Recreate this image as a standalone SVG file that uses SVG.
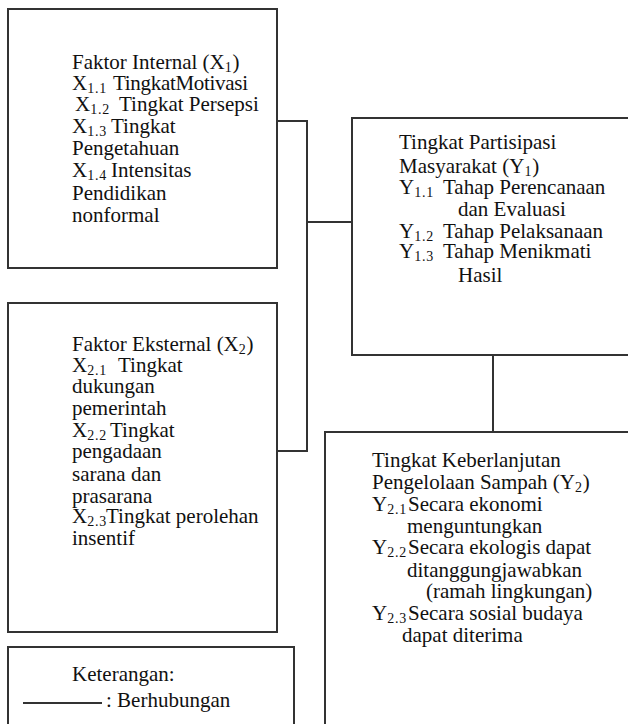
<svg xmlns="http://www.w3.org/2000/svg" width="628" height="724" viewBox="0 0 628 724">
<style>
.box{fill:none;stroke:#333;stroke-width:2}
.conn{fill:none;stroke:#333;stroke-width:2}
text{font-family:"Liberation Serif","Times New Roman",serif;font-size:21px;fill:#111}
.s{font-size:14px;letter-spacing:0.8px}
</style>
<rect width="628" height="724" fill="#fff"/>
<g id="x1">
<rect class="box" x="8" y="9" width="269" height="259"/>
<text x="72" y="69">Faktor Internal (X<tspan class="s" dy="3">1</tspan><tspan dy="-3">)</tspan></text>
<text x="72" y="90">X<tspan class="s" dy="3">1.1</tspan><tspan dy="-3" x="113" textLength="135">TingkatMotivasi</tspan></text>
<text x="75" y="111">X<tspan class="s" dy="3">1.2</tspan><tspan dy="-3" x="119">Tingkat Persepsi</tspan></text>
<text x="72" y="133">X<tspan class="s" dy="3">1.3</tspan><tspan dy="-3" x="111">Tingkat</tspan></text>
<text x="72" y="155">Pengetahuan</text>
<text x="72" y="177">X<tspan class="s" dy="3">1.4</tspan><tspan dy="-3" x="111">Intensitas</tspan></text>
<text x="72" y="200">Pendidikan</text>
<text x="72" y="222">nonformal</text>
</g>
<g id="x2">
<rect class="box" x="8" y="303" width="269" height="329"/>
<text x="72" y="351">Faktor Eksternal (X<tspan class="s" dy="3">2</tspan><tspan dy="-3">)</tspan></text>
<text x="72" y="372">X<tspan class="s" dy="3">2.1</tspan><tspan dy="-3" x="118">Tingkat</tspan></text>
<text x="72" y="393">dukungan</text>
<text x="72" y="415">pemerintah</text>
<text x="72" y="437">X<tspan class="s" dy="3">2.2</tspan><tspan dy="-3" x="110">Tingkat</tspan></text>
<text x="72" y="458">pengadaan</text>
<text x="72" y="481">sarana dan</text>
<text x="72" y="503">prasarana</text>
<text x="72" y="523">X<tspan class="s" dy="3">2.3</tspan><tspan dy="-3" x="106">Tingkat perolehan</tspan></text>
<text x="72" y="545">insentif</text>
</g>
<g id="legend">
<rect class="box" x="8" y="647" width="286" height="90"/>
<text x="72" y="681">Keterangan:</text>
<line class="conn" x1="23" y1="703" x2="102" y2="703"/>
<text x="106" y="707">: Berhubungan</text>
</g>
<g id="y1">
<rect class="box" x="352" y="118" width="290" height="237"/>
<text x="399" y="149">Tingkat Partisipasi</text>
<text x="399" y="173">Masyarakat (Y<tspan class="s" dy="3">1</tspan><tspan dy="-3">)</tspan></text>
<text x="399" y="194">Y<tspan class="s" dy="3">1.1</tspan><tspan dy="-3" x="443">Tahap Perencanaan</tspan></text>
<text x="458" y="216">dan Evaluasi</text>
<text x="399" y="238">Y<tspan class="s" dy="3">1.2</tspan><tspan dy="-3" x="443">Tahap Pelaksanaan</tspan></text>
<text x="399" y="258">Y<tspan class="s" dy="3">1.3</tspan><tspan dy="-3" x="443">Tahap Menikmati</tspan></text>
<text x="458" y="282">Hasil</text>
</g>
<g id="y2">
<rect class="box" x="325" y="432" width="320" height="310"/>
<text x="372" y="467">Tingkat Keberlanjutan</text>
<text x="372" y="489">Pengelolaan Sampah (Y<tspan class="s" dy="3">2</tspan><tspan dy="-3">)</tspan></text>
<text x="372" y="511">Y<tspan class="s" dy="3">2.1</tspan><tspan dy="-3" x="408">Secara ekonomi</tspan></text>
<text x="407" y="533">menguntungkan</text>
<text x="372" y="554">Y<tspan class="s" dy="3">2.2</tspan><tspan dy="-3" x="408">Secara ekologis dapat</tspan></text>
<text x="407" y="577">ditanggungjawabkan</text>
<text x="426" y="598">(ramah lingkungan)</text>
<text x="372" y="620">Y<tspan class="s" dy="3">2.3</tspan><tspan dy="-3" x="408">Secara sosial budaya</tspan></text>
<text x="402" y="642">dapat diterima</text>
</g>
<g id="connectors">
<path class="conn" d="M277,121 H307 V451 H277"/>
<path class="conn" d="M307,222 H352"/>
<path class="conn" d="M493,355 V432"/>
</g>
</svg>
